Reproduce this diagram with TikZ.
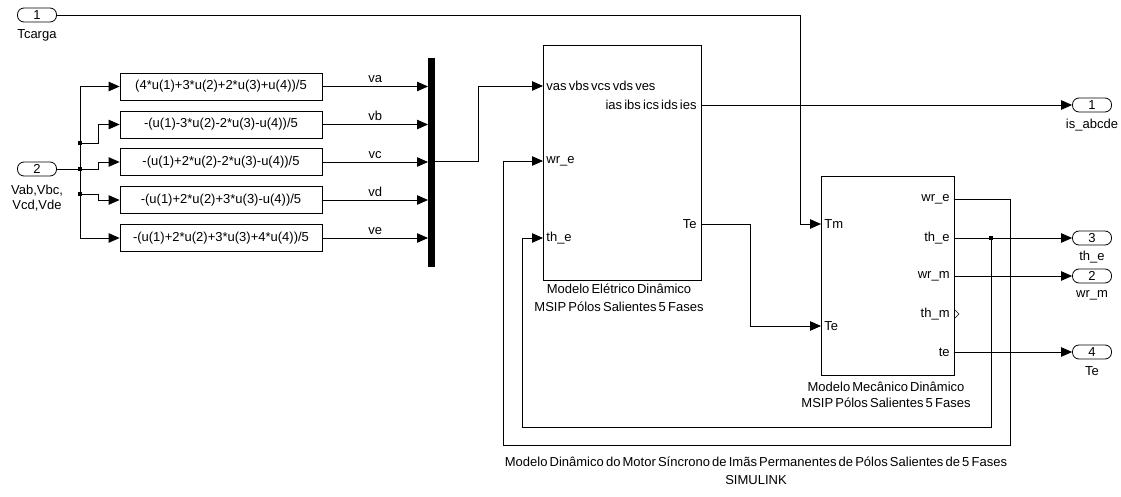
\documentclass[tikz,border=0pt]{standalone}
\usepackage{fontspec}
\setmainfont[WordSpace=0.6]{Liberation Sans}
\usetikzlibrary{arrows.meta}
\begin{document}
\begin{tikzpicture}[x=1pt,y=-1pt,line width=0.8pt,
  every node/.style={font=\fontsize{13}{15}\selectfont,inner sep=0pt},
  arr/.style={-{Triangle[length=11pt,width=9.5pt]}},
  blockbox/.style={draw,rectangle,line width=0.8pt},
  fcn/.style={blockbox,minimum width=202pt,minimum height=27pt},
  portoval/.style={draw,rectangle,rounded corners=6.5pt,minimum width=39pt,minimum height=14pt},
  plabel/.style={font=\fontsize{13}{15}\selectfont},
  siglabel/.style={above=3pt,font=\fontsize{13}{15}\selectfont},
  jdot/.style={fill=black,inner sep=0pt,minimum size=3.5pt,rectangle}
]
\useasboundingbox (0,0) rectangle (1121,497);

% inports
\node[portoval] (Tc) at (37,15) {1};
\node[plabel] (TcL) at (37,35) {Tcarga};
\node[portoval] (In2) at (37,169) {2};
\node[plabel,align=center] (In2L) at (37,198) {Vab,Vbc,\\Vcd,Vde};

% Fcn blocks
\node[fcn] (F1) at (221,86.5) {(4*u(1)+3*u(2)+2*u(3)+u(4))/5};
\node[fcn] (F2) at (221,124.5) {-(u(1)-3*u(2)-2*u(3)-u(4))/5};
\node[fcn] (F3) at (221,162) {-(u(1)+2*u(2)-2*u(3)-u(4))/5};
\node[fcn] (F4) at (221,200) {-(u(1)+2*u(2)+3*u(3)-u(4))/5};
\node[fcn] (F5) at (221,238) {-(u(1)+2*u(2)+3*u(3)+4*u(4))/5};

% mux
\node[fill=black,minimum width=7pt,minimum height=209pt] (Mux) at (431.5,162.5) {};

% electrical block
\node[blockbox,minimum width=158pt,minimum height=235pt] (E) at (622,162.5) {};
\node[anchor=west] (Ein1L) at (546,86) {vas vbs vcs vds ves};
\node[anchor=west] (Ein2L) at (546,161) {wr\_e};
\node[anchor=west] (Ein3L) at (546,238) {th\_e};
\node[anchor=east] (Eout1L) at (697,105) {ias ibs ics ids ies};
\node[anchor=east] (Eout2L) at (697,224) {Te};
\node[align=center,font=\fontsize{13}{18}\selectfont] (EL) at (619,298) {Modelo Elétrico Dinâmico\\MSIP Pólos Salientes 5 Fases};

% mechanical block
\node[blockbox,minimum width=133pt,minimum height=199pt] (M) at (887.5,275.5) {};
\node[anchor=west] (MTmL) at (824,224) {Tm};
\node[anchor=west] (MTeL) at (824,326) {Te};
\node[anchor=east] (Mo1L) at (950,199) {wr\_e};
\node[anchor=east] (Mo2L) at (950,238) {th\_e};
\node[anchor=east] (Mo3L) at (950,276) {wr\_m};
\node[anchor=east] (Mo4L) at (950,314) {th\_m};
\node[anchor=east] (Mo5L) at (950,352) {te};
\node[align=center,font=\fontsize{13}{16.5}\selectfont] (ML) at (886,395) {Modelo Mecânico Dinâmico\\MSIP Pólos Salientes 5 Fases};

% outports
\node[portoval] (O1) at (1092,105) {1};
\node[plabel] (O1L) at (1092,125) {is\_abcde};
\node[portoval] (O3) at (1092,238) {3};
\node[plabel] (O3L) at (1092,257) {th\_e};
\node[portoval] (O2) at (1092,276) {2};
\node[plabel] (O2L) at (1092,295) {wr\_m};
\node[portoval] (O4) at (1092,352) {4};
\node[plabel] (O4L) at (1092,371) {Te};

% title
\node[align=center,font=\fontsize{13}{18}\selectfont] (Title) at (756,471) {Modelo Dinâmico do Motor Síncrono de Imãs Permanentes de Pólos Salientes de 5 Fases\\SIMULINK};

% port coordinates
\coordinate (Ein1) at (543,86);
\coordinate (Ein2) at (543,161);
\coordinate (Ein3) at (543,238);
\coordinate (Eout1) at (701,105);
\coordinate (Eout2) at (701,224);
\coordinate (MTm) at (821,224);
\coordinate (MTe) at (821,326);
\coordinate (Mo1) at (954,199);
\coordinate (Mo2) at (954,238);
\coordinate (Mo3) at (954,276);
\coordinate (Mo5) at (954,352);
\coordinate (MuxIn1) at (428,86.5);
\coordinate (MuxIn2) at (428,124.5);
\coordinate (MuxIn3) at (428,162);
\coordinate (MuxIn4) at (428,200);
\coordinate (MuxIn5) at (428,238);
\coordinate (MuxOut) at (435,161);
\coordinate (J2) at (80,143);
\coordinate (J3) at (80,169);
\coordinate (J4) at (80,194);
\coordinate (Jth) at (991,238);

% Tcarga to Tm
\draw[arr] (Tc.east) -- (800,15) |- (MTm);

% input distribution
\draw (In2.east) -- (J3);
\draw[arr] (J3) -- (98,169) |- (F3.west);
\draw[arr] (80,86.5) -- (F1.west);
\draw[arr] (80,86.5) -- (80,238) -- (F5.west);
\draw[arr] (J2) -- (98,143) |- (F2.west);
\draw[arr] (J4) -- (98,194) |- (F4.west);
\node[jdot] at (J2) {};
\node[jdot] at (J3) {};
\node[jdot] at (J4) {};

% Fcn to mux
\draw[arr] (F1.east) -- node[siglabel] {va} (MuxIn1);
\draw[arr] (F2.east) -- node[siglabel] {vb} (MuxIn2);
\draw[arr] (F3.east) -- node[siglabel] {vc} (MuxIn3);
\draw[arr] (F4.east) -- node[siglabel] {vd} (MuxIn4);
\draw[arr] (F5.east) -- node[siglabel] {ve} (MuxIn5);

% mux to electrical
\draw[arr] (MuxOut) -- (478,161) |- (Ein1);

% electrical outputs
\draw[arr] (Eout1) -- (O1.west);
\draw[arr] (Eout2) -- (750,224) |- (MTe);

% mechanical outputs
\draw[arr] (Mo1) -- (1010,199) -- (1010,445) -- (503,445) |- (Ein2);
\draw[arr] (Mo2) -- (O3.west);
\draw[arr] (Jth) -- (991,427) -- (522,427) |- (Ein3);
\node[jdot] at (Jth) {};
\draw[arr] (Mo3) -- (O2.west);
\draw[arr] (Mo5) -- (O4.west);
% unconnected th_m port mark
\draw[line width=0.6pt] (955,310) -- (959,314) -- (955,318);
\end{tikzpicture}
\end{document}
